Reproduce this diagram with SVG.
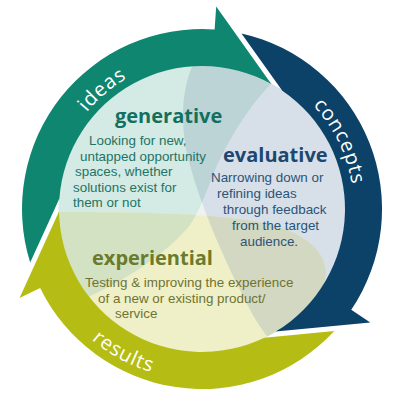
<svg xmlns="http://www.w3.org/2000/svg" xmlns:xlink="http://www.w3.org/1999/xlink" width="400" height="400" viewBox="0 0 400 400">
<style>
.ring{font-family:"Open Sans","Noto Sans",sans-serif;font-size:20px;fill:#ffffff;letter-spacing:0.8px}
.head{font-family:"Open Sans","Noto Sans",sans-serif;font-size:20px;font-weight:700}
.body{font-family:"Liberation Sans",Arial,sans-serif;font-size:13.4px}
</style>
<defs>
<clipPath id="disc"><circle cx="202" cy="209" r="143.5"/></clipPath>
<path id="pT" d="M271,84 C250,105 228,140 215,170 C205,195 200,210 190,225 C170,250 130,280 70,305 L-50,305 L-50,-50 L300,-50 Z"/>
<path id="pB" d="M195,60 C180,90 180,130 190,165 C198,195 215,240 240,290 C252,315 262,332 275,345 L420,345 L420,-20 L200,-20 Z"/>
<path id="pY" d="M40,212 C120,212 200,212 260,222 C300,230 325,248 326,272 C326,295 300,318 268,336 L260,420 L40,420 Z"/>
<clipPath id="cT"><use xlink:href="#pT"/></clipPath>
<clipPath id="cB"><use xlink:href="#pB"/></clipPath>
<path id="arrow" d="M30.2,262.6 A180,180 0 0 1 214.6,29.4 L216.2,6.5 L271.3,83.9 A143,143 0 0 0 59.4,198.6 Z"/>
<path id="ideasPath" d="M52.6,195.9 A152,152 0 0 1 215.1,57.6"/>
<path id="conceptsPath" d="M250.8,65.2 A152,152 0 0 1 345.7,258.5"/>
<path id="resultsPath" d="M37.9,257 A171,171 0 0 0 250,373.1"/>
</defs>
<rect width="400" height="400" fill="#ffffff"/>
<g id="disc-petals" clip-path="url(#disc)">
<circle cx="202" cy="209" r="144" fill="#EEF3F0"/>
<use xlink:href="#pT" fill="#D3EAE5"/>
<use xlink:href="#pB" fill="#D7E0E8"/>
<use xlink:href="#pY" fill="#EFF0C8"/>
<use xlink:href="#pB" fill="#BCD4D6" clip-path="url(#cT)"/>
<use xlink:href="#pY" fill="#D3E2C3" clip-path="url(#cT)"/>
<use xlink:href="#pY" fill="#D2D8C1" clip-path="url(#cB)"/>
</g>
<g id="connectors">
<use id="arrow-ideas" xlink:href="#arrow" fill="#0F8670"/>
<use id="arrow-concepts" xlink:href="#arrow" fill="#0C4268" transform="rotate(120 202 209)"/>
<use id="arrow-results" xlink:href="#arrow" fill="#B5BD14" transform="rotate(240 202 209)"/>
<text class="ring"><textPath xlink:href="#ideasPath" startOffset="50%" text-anchor="middle">ideas</textPath></text>
<text class="ring"><textPath xlink:href="#conceptsPath" startOffset="50%" text-anchor="middle">concepts</textPath></text>
<text class="ring"><textPath xlink:href="#resultsPath" startOffset="50%" text-anchor="middle">results</textPath></text>
</g>
<g id="generative">
<text class="head" x="115" y="123" fill="#136F5E">generative</text>
<g class="body" fill="#1F7463">
<text x="89" y="145">Looking for new,</text>
<text x="80" y="160.5">untapped opportunity</text>
<text x="75" y="176">spaces, whether</text>
<text x="73" y="191.5">solutions exist for</text>
<text x="73" y="207">them or not</text>
</g>
</g>
<g id="evaluative">
<text class="head" x="223" y="162" fill="#1D4770">evaluative</text>
<g class="body" fill="#2A5478">
<text x="211" y="182">Narrowing down or</text>
<text x="217" y="198">refining ideas</text>
<text x="223" y="214">through feedback</text>
<text x="232" y="230">from the target</text>
<text x="240" y="246">audience.</text>
</g>
</g>
<g id="experiential">
<text class="head" x="92" y="265" fill="#6B7A2B">experiential</text>
<g class="body" fill="#6E7332">
<text x="85" y="287">Testing &amp; improving the experience</text>
<text x="98" y="303">of a new or existing product/</text>
<text x="115" y="318">service</text>
</g>
</g>
</svg>
